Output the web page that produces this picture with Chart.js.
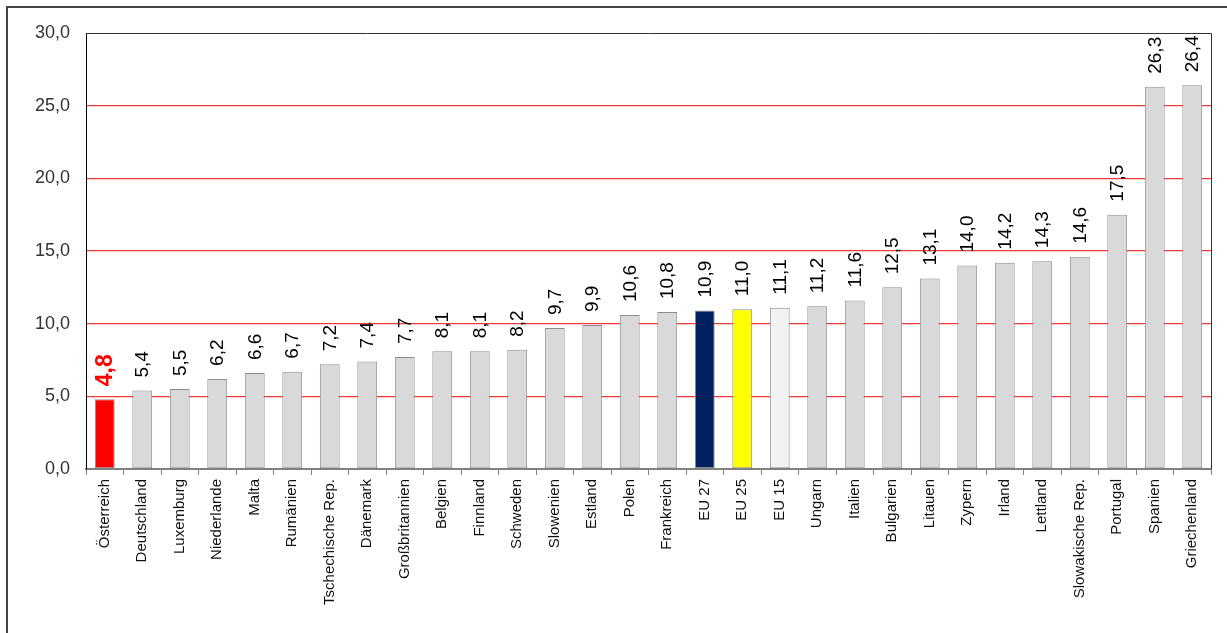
<!DOCTYPE html>
<html>
<head>
<meta charset="utf-8">
<script src="https://cdn.jsdelivr.net/npm/chart.js@4"></script>
<style>
  body { margin: 0; background: #fff; }
</style>
</head>
<body>
<canvas id="myChart" width="1227" height="633"></canvas>
<script>
const categories = [
  "Österreich", "Deutschland", "Luxemburg", "Niederlande", "Malta", "Rumänien",
  "Tschechische Rep.", "Dänemark", "Großbritannien", "Belgien", "Finnland",
  "Schweden", "Slowenien", "Estland", "Polen", "Frankreich", "EU 27", "EU 25",
  "EU 15", "Ungarn", "Italien", "Bulgarien", "Litauen", "Zypern", "Irland",
  "Lettland", "Slowakische Rep.", "Portugal", "Spanien", "Griechenland"
];

const values = [
  4.8, 5.4, 5.5, 6.2, 6.6, 6.7, 7.2, 7.4, 7.7, 8.1, 8.1, 8.2, 9.7, 9.9, 10.6,
  10.8, 10.9, 11.0, 11.1, 11.2, 11.6, 12.5, 13.1, 14.0, 14.2, 14.3, 14.6,
  17.5, 26.3, 26.4
];

const yTicks = [0, 5, 10, 15, 20, 25, 30];

const FONT = "'Liberation Sans', Arial, sans-serif";
const fmt = (v) => v.toFixed(1).replace(".", ",");

// special colours for highlighted bars
const barColor = (label) => {
  if (label === "Österreich") return "#ff0000";
  if (label === "EU 27") return "#002060";
  if (label === "EU 25") return "#ffff00";
  if (label === "EU 15") return "#f2f2f2";
  return "#d9d9d9";
};

// frame + plot border
const framePlugin = {
  id: "frame",
  beforeDraw(chart) {
    const c = chart.ctx;
    c.save();
    c.fillStyle = "#fff";
    c.fillRect(0, 0, chart.width, chart.height);
    c.strokeStyle = "#444";
    c.lineWidth = 2;
    c.beginPath();
    c.moveTo(7, chart.height);
    c.lineTo(7, 7);
    c.lineTo(chart.width, 7);
    c.stroke();
    c.restore();
  },
  afterDraw(chart) {
    const a = chart.chartArea;
    const c = chart.ctx;
    c.save();
    c.strokeStyle = "#333";
    c.lineWidth = 1;
    c.beginPath();
    c.moveTo(a.left, a.top + 0.5);
    c.lineTo(a.right + 0.5, a.top + 0.5);
    c.lineTo(a.right + 0.5, a.bottom);
    c.stroke();
    c.restore();
  }
};

// value labels above bars, rotated
const valueLabels = {
  id: "valueLabels",
  afterDatasetsDraw(chart) {
    const c = chart.ctx;
    const meta = chart.getDatasetMeta(0);
    meta.data.forEach((bar, i) => {
      const isAT = categories[i] === "Österreich";
      c.save();
      c.translate(bar.x, bar.y - 13);
      c.rotate(-Math.PI / 2);
      c.textAlign = "left";
      c.textBaseline = "middle";
      c.fillStyle = isAT ? "#ff0000" : "#000";
      c.font = (isAT ? "bold 23px " : "19px ") + FONT;
      c.fillText(fmt(values[i]), 0, 1);
      c.restore();
    });
  }
};

const ctx = document.getElementById("myChart");

new Chart(ctx, {
  type: "bar",
  data: {
    labels: categories,
    datasets: [
      {
        data: values,
        backgroundColor: categories.map(barColor),
        borderColor: "#8c8c8c",
        borderWidth: 1,
        borderSkipped: false,
        categoryPercentage: 1,
        barPercentage: 0.53
      }
    ]
  },
  options: {
    responsive: false,
    animation: false,
    layout: { padding: { top: 33, right: 16, left: 0, bottom: 0 } },
    plugins: {
      legend: { display: false },
      tooltip: { enabled: false }
    },
    scales: {
      x: {
        afterFit: (scale) => { scale.height = 164; },
        border: { display: true, color: "#808080", width: 2 },
        grid: {
          display: true,
          offset: true,
          drawOnChartArea: false,
          drawTicks: true,
          tickLength: 6,
          color: "#808080"
        },
        ticks: {
          minRotation: 90,
          maxRotation: 90,
          autoSkip: false,
          padding: 4,
          color: "#111",
          font: { family: FONT, size: 15 }
        }
      },
      y: {
        min: 0,
        max: 30,
        afterFit: (scale) => { scale.width = 86; },
        afterBuildTicks: (scale) => {
          scale.ticks = yTicks.map((v) => ({ value: v }));
        },
        border: { display: true, color: "#000", width: 1 },
        grid: {
          drawTicks: false,
          color: ["rgba(0,0,0,0)", "#ee3a36", "#ee3a36", "#ee3a36", "#ee3a36", "#ee3a36", "rgba(0,0,0,0)"],
          lineWidth: 1.3
        },
        ticks: {
          padding: 16,
          color: "#333",
          font: { family: FONT, size: 18 },
          callback: (v) => fmt(v)
        }
      }
    }
  },
  plugins: [framePlugin, valueLabels]
});
</script>
</body>
</html>
